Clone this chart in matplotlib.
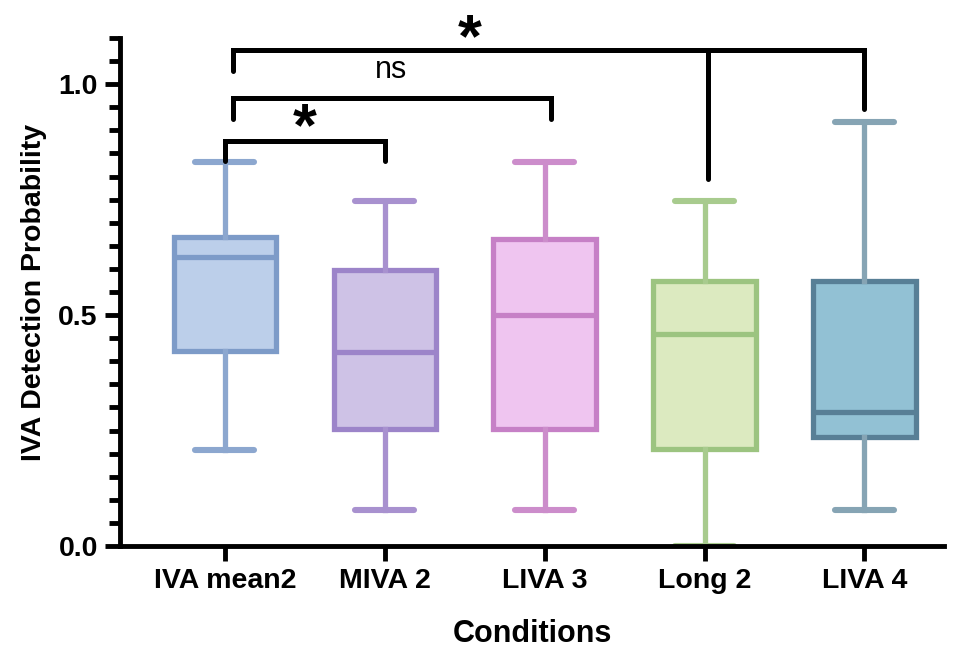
import matplotlib
matplotlib.use("Agg")
import matplotlib.pyplot as plt

plt.rcParams['font.family'] = ['Liberation Sans', 'DejaVu Sans']
plt.rcParams['font.weight'] = 'bold'

# data
conditions = ['IVA mean2', 'MIVA 2', 'LIVA 3', 'Long 2', 'LIVA 4']
whislo = [0.208, 0.078, 0.078, 0.0, 0.078]
q1 = [0.423, 0.254, 0.254, 0.210, 0.236]
med = [0.625, 0.421, 0.500, 0.460, 0.291]
q3 = [0.670, 0.597, 0.664, 0.573, 0.573]
whishi = [0.831, 0.748, 0.831, 0.748, 0.918]

fills = ['#bccfea', '#cec2e6', '#efc5f0', '#dceac0', '#92c1d4']
edges = ['#7d9bc8', '#9c84c9', '#c680c6', '#9cc480', '#587f96']
whisk = ['#8ca7cf', '#a891cf', '#cc8dcb', '#a8cb8e', '#86a4b4']

fig = plt.figure(figsize=(9.63, 6.49), dpi=100)
ax = fig.add_axes([0.1246, 0.1587, 0.856, 0.7827])

stats = []
for i in range(len(conditions)):
    stats.append(dict(label=conditions[i], whislo=whislo[i], q1=q1[i], med=med[i],
                      q3=q3[i], whishi=whishi[i], fliers=[]))

for i in range(len(stats)):
    ax.bxp([stats[i]], positions=[i], widths=0.64, patch_artist=True,
           showfliers=False, manage_ticks=False,
           boxprops=dict(facecolor=fills[i], edgecolor=edges[i], linewidth=3.8),
           medianprops=dict(color=edges[i], linewidth=3.8, solid_capstyle='butt'),
           whiskerprops=dict(color=whisk[i], linewidth=3.8),
           capprops=dict(color=whisk[i], linewidth=4.4, solid_capstyle='round'),
           capwidths=0.37)

ax.set_xticks(range(len(conditions)))
ax.set_xticklabels(conditions, fontsize=20.5, fontweight='bold')
ax.set_xlim(-0.656, 4.5)
ax.set_ylim(0, 1.10)
ax.set_yticks([0.0, 0.5, 1.0])
ax.set_yticklabels(['0.0', '0.5', '1.0'], fontsize=20.5, fontweight='bold')
ax.set_yticks([i * 0.05 for i in range(23)], minor=True)
ax.tick_params(axis='both', which='major', width=3.5, length=11, pad=5)
ax.tick_params(axis='y', which='minor', width=3.5, length=8)
ax.spines['top'].set_visible(False)
ax.spines['right'].set_visible(False)
ax.spines['left'].set_linewidth(3.5)
ax.spines['bottom'].set_linewidth(3.5)
ax.set_xlabel('Conditions', fontsize=22, fontweight='bold', labelpad=18)
ax.set_ylabel('IVA Detection Probability', fontsize=20.5, fontweight='bold', labelpad=8)

# significance brackets
lw = 3.6
ax.plot([0, 0, 1, 1], [0.833, 0.876, 0.876, 0.833], color='k', lw=lw, clip_on=False,
        solid_capstyle='round', solid_joinstyle='miter')
ax.plot([0.05, 0.05, 2.04, 2.04], [0.924, 0.970, 0.970, 0.924], color='k', lw=lw, clip_on=False,
        solid_capstyle='round', solid_joinstyle='miter')
ax.plot([0.05, 0.05, 4.0, 4.0], [1.028, 1.073, 1.073, 0.946], color='k', lw=lw, clip_on=False,
        solid_capstyle='round', solid_joinstyle='miter')
ax.plot([3.02, 3.02], [1.073, 0.794], color='k', lw=lw, clip_on=False, solid_capstyle='round')

ax.text(0.5, 0.902, '*', fontsize=44, fontweight='bold', ha='center', va='center')
ax.text(1.53, 1.094, '*', fontsize=44, fontweight='bold', ha='center', va='center', clip_on=False)
ax.text(1.04, 1.03, 'ns', fontsize=22, fontweight='normal', ha='center', va='center')

fig.savefig('out.png', dpi=100)
